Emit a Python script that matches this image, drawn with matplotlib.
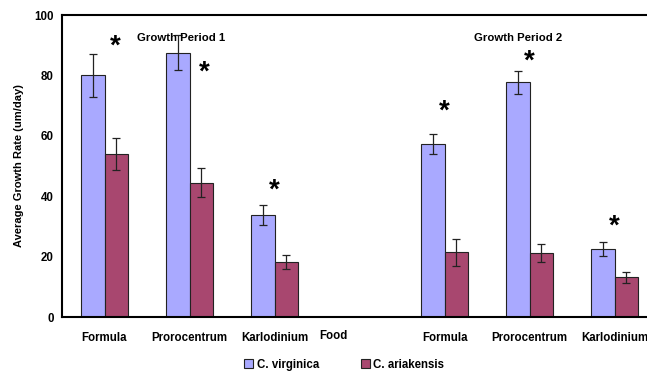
import matplotlib.pyplot as plt
import numpy as np

plt.rcParams["font.family"] = ["Liberation Sans", "DejaVu Sans"]
plt.rcParams["font.weight"] = "bold"

# Food treatments; the empty slot separates the two growth periods
categories = ["Formula", "Prorocentrum", "Karlodinium", "",
              "Formula", "Prorocentrum", "Karlodinium"]
virginica = [80.0, 87.5, 33.8, np.nan, 57.2, 77.7, 22.4]
virginica_err = [7.0, 5.8, 3.3, np.nan, 3.3, 3.9, 2.3]
ariakensis = [54.0, 44.5, 18.1, np.nan, 21.4, 21.2, 13.1]
ariakensis_err = [5.3, 4.8, 2.3, np.nan, 4.4, 3.0, 1.8]

# significance markers: (category index, x offset, height)
stars = [(0, 0.13, 89.4), (1, 0.17, 80.8), (2, 0.0, 42.0),
         (4, 0.0, 68.0), (5, 0.0, 84.4), (6, 0.0, 30.0)]
periods = [("Growth Period 1", 0.9, 92.4), ("Growth Period 2", 4.87, 92.4)]

blue = "#A9A9FF"
plum = "#A8476F"

fig = plt.figure(figsize=(6.47, 3.79), dpi=100)
ax = fig.add_axes([62 / 647, 1 - 317 / 379, 595 / 647, 302 / 379])

x = np.arange(len(categories))
w = 0.28
ax.bar(x - w / 2, virginica, w, color=blue, edgecolor="#222222", linewidth=0.8,
       label="C. virginica")
ax.bar(x + w / 2, ariakensis, w, color=plum, edgecolor="#222222", linewidth=0.8,
       label="C. ariakensis")
ax.errorbar(x - w / 2, virginica, yerr=virginica_err, fmt="none", ecolor="#222222",
            elinewidth=0.9, capsize=3, capthick=0.9)
ax.errorbar(x + w / 2, ariakensis, yerr=ariakensis_err, fmt="none", ecolor="#222222",
            elinewidth=0.9, capsize=3, capthick=0.9)

for i, dx, h in stars:
    ax.text(x[i] + dx, h, "*", ha="center", va="center", fontsize=20,
            fontweight="bold")
for label, px, py in periods:
    ax.text(px, py, label, ha="center", va="center", fontsize=8.2,
            fontweight="bold")

ax.set_xlim(-0.5, len(categories) - 0.5)
ax.set_ylim(0, 100)
ax.set_yticks([0, 20, 40, 60, 80, 100])
ax.set_xticks(x)
ax.set_xticklabels(categories)
ax.tick_params(length=0, labelsize=8.3, pad=6)
ax.tick_params(axis="x", pad=11)
for lbl in ax.get_xticklabels() + ax.get_yticklabels():
    lbl.set_fontweight("bold")
ax.set_ylabel("Average Growth Rate (um/day)", fontsize=8, fontweight="bold",
              labelpad=7)
ax.set_xlabel("Food", fontsize=8.3, fontweight="bold")
ax.xaxis.set_label_coords(271 / 595, -13 / 302)

for side in ["left", "bottom", "top"]:
    ax.spines[side].set_linewidth(1.5)
ax.spines["right"].set_visible(False)

fig.legend(loc="lower center", bbox_to_anchor=(0.532, -0.005), ncol=2,
           frameon=False, handlelength=0.8, handleheight=0.8,
           handletextpad=0.3, columnspacing=3.6,
           prop={"weight": "bold", "size": 8.3})

fig.savefig("out.png", dpi=100)
